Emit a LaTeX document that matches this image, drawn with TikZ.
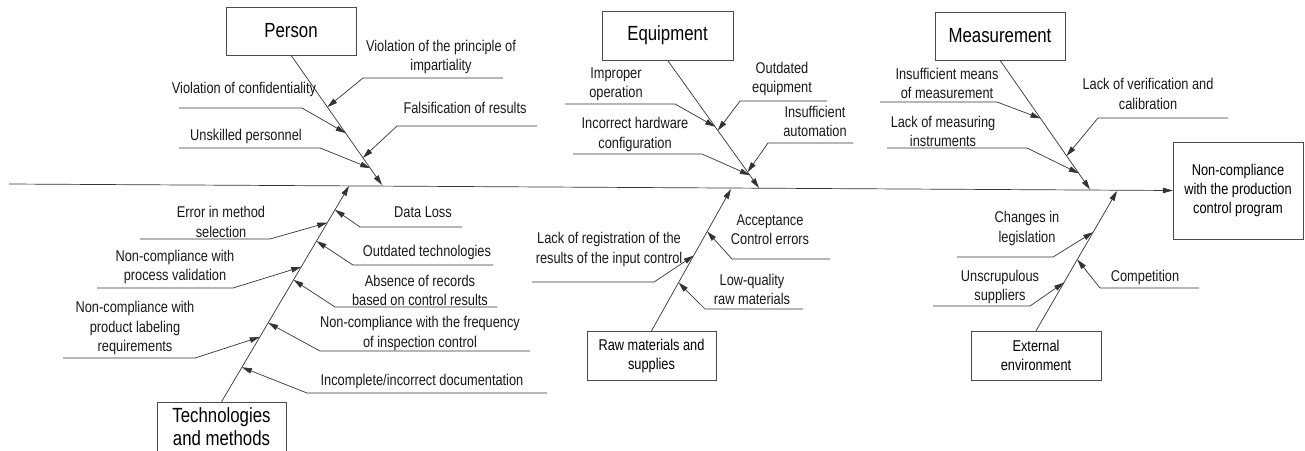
\documentclass[tikz,border=0pt]{standalone}
\usepackage{fontspec}
\newfontfamily\diagfont{Liberation Sans}[FakeStretch=0.82]
\usetikzlibrary{arrows.meta,calc}
\tikzset{
  bigbox/.style={draw=black!70, inner sep=0pt, align=center, font=\diagfont\fontsize{20.5}{23}\selectfont},
  smallbox/.style={draw=black!70, inner sep=0pt, align=center, font=\diagfont\fontsize{15.6}{19}\selectfont},
  cause/.style={inner sep=0pt, align=center, text=black!90, font=\diagfont\fontsize{15.6}{19.5}\selectfont},
  bone/.style={draw=black!80, line width=0.7pt, -{Triangle[length=10pt,width=5.5pt]}}
}

\begin{document}
\begin{tikzpicture}[x=1pt,y=-1pt]
\useasboundingbox (0,0) rectangle (1305,450);
% head and spine
\node[smallbox, minimum width=130, minimum height=97] (head) at (1238,190.5) {Non-compliance\\with the production\\control program};
\coordinate (tail) at (9,184);
\draw[bone] (tail) -- (head.west);

% category boxes
\node[bigbox, minimum width=130, minimum height=48] (person) at (291,31) {Person};
\node[bigbox, minimum width=131, minimum height=49] (equip) at (667.5,35.5) {Equipment};
\node[bigbox, minimum width=130, minimum height=48] (meas) at (1000,36) {Measurement};
\node[bigbox, minimum width=129, minimum height=49.5] (tech) at (221.5,426.75) {Technologies\\and methods};
\node[smallbox, minimum width=129, minimum height=49] (raw) at (651.5,355.5) {Raw materials and\\supplies};
\node[smallbox, minimum width=130, minimum height=49] (ext) at (1036,355.5) {External\\environment};

% main bones
\coordinate (pT) at (382,185);
\coordinate (tT) at (349,186);
\coordinate (eT) at (759,188);
\coordinate (rT) at (731,189);
\coordinate (mT) at (1090,189.5);
\coordinate (xT) at (1117,191);
\draw[bone] (person.south) -- (pT);
\draw[bone] (tech.north) -- (tT);
\draw[bone] (equip.south) -- (eT);
\draw[bone] (raw.north) -- (rT);
\draw[bone] (meas.south) -- (mT);
\draw[bone] (ext.north) -- (xT);

% Person
\node[cause] (imp) at (441,57) {Violation of the principle of\\impartiality};
\node[cause] (conf) at (244,89) {Violation of confidentiality};
\node[cause] (fals) at (465,108) {Falsification of results};
\node[cause] (unsk) at (246,136) {Unskilled personnel};
\coordinate (imp1) at (503,78);   \coordinate (imp2) at (363,78);
\coordinate (conf1) at (179,108); \coordinate (conf2) at (302,108);
\coordinate (fals1) at (537,126); \coordinate (fals2) at (397,126);
\coordinate (unsk1) at (179,148); \coordinate (unsk2) at (320,148);
\draw[bone] (imp1) -- (imp2) -- ($(person.south)!0.40!(pT)$);
\draw[bone] (conf1) -- (conf2) -- ($(person.south)!0.60!(pT)$);
\draw[bone] (fals1) -- (fals2) -- ($(person.south)!0.79!(pT)$);
\draw[bone] (unsk1) -- (unsk2) -- ($(person.south)!0.87!(pT)$);

% Technologies and methods
\node[cause] (err) at (221,222) {Error in method\\selection};
\node[cause] (val) at (175,267) {Non-compliance with\\process validation};
\node[cause] (lab) at (135,328) {Non-compliance with\\product labeling\\requirements};
\node[cause] (loss) at (423,212) {Data Loss};
\node[cause] (outd) at (427,252) {Outdated technologies};
\node[cause] (abs) at (420,290.5) {Absence of records\\based on control results};
\node[cause] (freq) at (420,333.5) {Non-compliance with the frequency\\of inspection control};
\node[cause] (doc) at (422,381) {Incomplete/incorrect documentation};
\coordinate (err1) at (140,239);  \coordinate (err2) at (270,239);
\coordinate (val1) at (97,288);   \coordinate (val2) at (233,288);
\coordinate (lab1) at (63,358);   \coordinate (lab2) at (195,358);
\coordinate (loss1) at (462,227); \coordinate (loss2) at (360,227);
\coordinate (outd1) at (493,265); \coordinate (outd2) at (353,265);
\coordinate (abs1) at (497,307);  \coordinate (abs2) at (335,307);
\coordinate (freq1) at (530,351); \coordinate (freq2) at (320,351);
\coordinate (doc1) at (547,393);  \coordinate (doc2) at (307,393);
\draw[bone] (err1) -- (err2) -- ($(tech.north)!0.83!(tT)$);
\draw[bone] (val1) -- (val2) -- ($(tech.north)!0.625!(tT)$);
\draw[bone] (lab1) -- (lab2) -- ($(tech.north)!0.30!(tT)$);
\draw[bone] (loss1) -- (loss2) -- ($(tech.north)!0.89!(tT)$);
\draw[bone] (outd1) -- (outd2) -- ($(tech.north)!0.745!(tT)$);
\draw[bone] (abs1) -- (abs2) -- ($(tech.north)!0.565!(tT)$);
\draw[bone] (freq1) -- (freq2) -- ($(tech.north)!0.366!(tT)$);
\draw[bone] (doc1) -- (doc2) -- ($(tech.north)!0.16!(tT)$);

% Equipment
\node[cause] (impr) at (616,84) {Improper\\operation};
\node[cause] (oute) at (782,79) {Outdated\\equipment};
\node[cause] (auto) at (815,121.5) {Insufficient\\automation};
\node[cause] (hard) at (635,134.5) {Incorrect hardware\\configuration};
\coordinate (impr1) at (565,104); \coordinate (impr2) at (675,104);
\coordinate (oute1) at (827,101); \coordinate (oute2) at (740,101);
\coordinate (auto1) at (853,143); \coordinate (auto2) at (768,143);
\coordinate (hard1) at (573,154); \coordinate (hard2) at (702,154);
\draw[bone] (impr1) -- (impr2) -- ($(equip.south)!0.52!(eT)$);
\draw[bone] (oute1) -- (oute2) -- ($(equip.south)!0.55!(eT)$);
\draw[bone] (auto1) -- (auto2) -- ($(equip.south)!0.875!(eT)$);
\draw[bone] (hard1) -- (hard2) -- ($(equip.south)!0.90!(eT)$);

% Raw materials and supplies
\node[cause] (reg) at (609,249.5) {Lack of registration of the\\results of the input control};
\node[cause] (acc) at (770,229.5) {Acceptance\\Control errors};
\node[cause] (low) at (752,289.5) {Low-quality\\raw materials};
\coordinate (reg1) at (532,282); \coordinate (reg2) at (654,282);
\coordinate (acc1) at (830,259); \coordinate (acc2) at (732,259);
\coordinate (low1) at (803,309); \coordinate (low2) at (705,309);
\draw[bone] (reg1) -- (reg2) -- ($(raw.north)!0.53!(rT)$);
\draw[bone] (acc1) -- (acc2) -- ($(raw.north)!0.70!(rT)$);
\draw[bone] (low1) -- (low2) -- ($(raw.north)!0.34!(rT)$);

% Measurement
\node[cause] (mean) at (947,83.5) {Insufficient means\\of measurement};
\node[cause] (verif) at (1148,94) {Lack of verification and\\calibration};
\node[cause] (instr) at (943,131.5) {Lack of measuring\\instruments};
\coordinate (mean1) at (880,102);   \coordinate (mean2) at (997,102);
\coordinate (verif1) at (1228,118); \coordinate (verif2) at (1098,118);
\coordinate (instr1) at (887,148);  \coordinate (instr2) at (1027,148);
\draw[bone] (mean1) -- (mean2) -- ($(meas.south)!0.45!(mT)$);
\draw[bone] (verif1) -- (verif2) -- ($(meas.south)!0.74!(mT)$);
\draw[bone] (instr1) -- (instr2) -- ($(meas.south)!0.875!(mT)$);

% External environment
\node[cause] (legis) at (1027,228.5) {Changes in\\legislation};
\node[cause] (unscr) at (1000,287) {Unscrupulous\\suppliers};
\node[cause] (comp) at (1145,277) {Competition};
\coordinate (legis1) at (957,257); \coordinate (legis2) at (1053,257);
\coordinate (unscr1) at (933,306); \coordinate (unscr2) at (1030,306);
\coordinate (comp1) at (1199,288); \coordinate (comp2) at (1100,288);
\draw[bone] (legis1) -- (legis2) -- ($(ext.north)!0.705!(xT)$);
\draw[bone] (unscr1) -- (unscr2) -- ($(ext.north)!0.345!(xT)$);
\draw[bone] (comp1) -- (comp2) -- ($(ext.north)!0.51!(xT)$);
\end{tikzpicture}
\end{document}
